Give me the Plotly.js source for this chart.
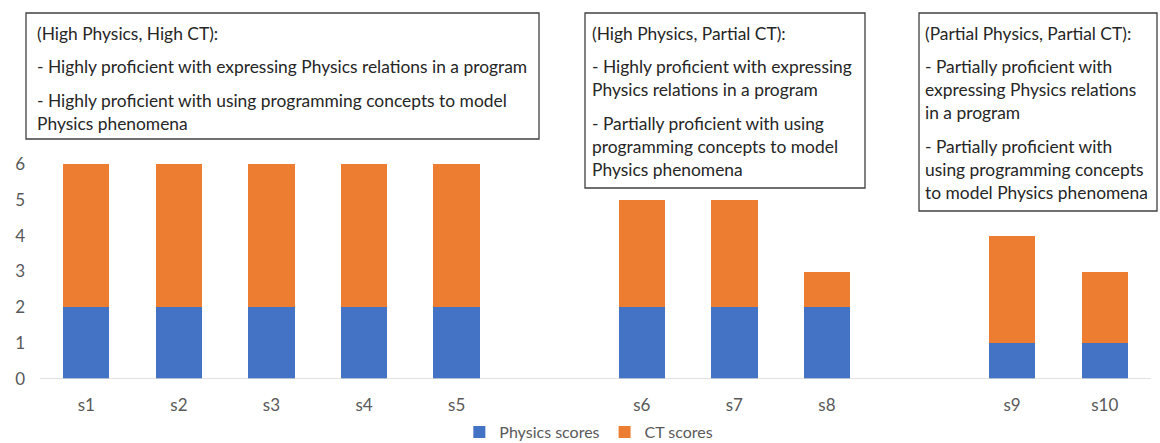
<!DOCTYPE html>
<html>
<head>
<meta charset="utf-8">
<script src="https://cdn.plot.ly/plotly-3.0.1.min.js"></script>
<style>html,body{margin:0;padding:0;background:#fff;}#chart{width:1160px;height:443px;}</style>
</head>
<body>
<div id="chart"></div>
<script>
// ---- data ----
const categories = ['s1','s2','s3','s4','s5','s6','s7','s8','s9','s10'];
const groupIndex = [0,0,0,0,0,1,1,1,2,2];
const physicsScores = [2,2,2,2,2,2,2,2,1,1];
const ctScores = [4,4,4,4,4,3,3,1,3,2];
const seriesNames = ['Physics scores','CT scores'];
const groupNotes = [
  ['(High Physics, High CT):',
   ['- Highly proficient with expressing Physics relations in a program'],
   ['- Highly proficient with using programming concepts to model', 'Physics phenomena']],
  ['(High Physics, Partial CT):',
   ['- Highly proficient with expressing', 'Physics relations in a program'],
   ['- Partially proficient with using', 'programming concepts to model', 'Physics phenomena']],
  ['(Partial Physics, Partial CT):',
   ['- Partially proficient with', 'expressing Physics relations', 'in a program'],
   ['- Partially proficient with', 'using programming concepts', 'to model Physics phenomena']]
];

// slot position: one empty slot between groups
const xpos = categories.map((c, i) => i + groupIndex[i]);

const W = 1160, H = 443;
const M = {l: 40, r: 9, t: 164, b: 64, autoexpand: false};
const pw = W - M.l - M.r, ph = H - M.t - M.b;
const px = v => (v - M.l) / pw;
const py = v => (H - M.b - v) / ph;

const FONT = 'Lato, "Open Sans", sans-serif';
const NOTE_SIZE = 17.4;

const traces = [
  {type: 'bar', name: seriesNames[0], x: xpos, y: physicsScores,
   marker: {color: '#4472C4', line: {width: 0}}, hoverinfo: 'y'},
  {type: 'bar', name: seriesNames[1], x: xpos, y: ctScores,
   marker: {color: '#ED7D31', line: {width: 0}}, hoverinfo: 'y'}
];

// note boxes (layout only)
const boxes = [
  {l: 26, r: 539, t: 13, b: 139, tx: 35, lines: [33, 67, 100, 123]},
  {l: 585, r: 865, t: 13, b: 188, tx: 590, lines: [33, 66, 89, 123, 146, 169]},
  {l: 919, r: 1157, t: 13, b: 211, tx: 923, lines: [33, 66, 89, 112, 146, 169, 192]}
];
const shapes = [];
const annotations = [];
groupNotes.forEach((note, gi) => {
  const b = boxes[gi];
  shapes.push({type: 'rect', xref: 'paper', yref: 'paper',
    x0: px(b.l), x1: px(b.r), y0: py(b.b), y1: py(b.t),
    line: {color: '#404040', width: 1.3}, fillcolor: '#ffffff', layer: 'above'});
  const flat = [note[0]].concat(note[1], note[2]);
  flat.forEach((txt, li) => {
    annotations.push({xref: 'paper', yref: 'paper', x: px(b.tx), y: py(b.lines[li]),
      xanchor: 'left', yanchor: 'middle', showarrow: false, text: txt,
      font: {family: FONT, size: NOTE_SIZE, color: '#262626'}});
  });
});
// continuous baseline
shapes.push({type: 'line', xref: 'paper', yref: 'y', x0: 0, x1: 1, y0: 0, y1: 0,
  line: {color: '#D9D9D9', width: 1.3}, layer: 'above'});

const layout = {
  width: W, height: H,
  margin: M,
  paper_bgcolor: '#ffffff', plot_bgcolor: '#ffffff',
  barmode: 'stack', bargap: 0.5,
  font: {family: FONT, size: 17, color: '#595959'},
  xaxis: {
    range: [-0.5, 11.5], tickmode: 'array', tickvals: xpos, ticktext: categories,
    showgrid: false, zeroline: false, showline: false, ticks: '',
    ticklabelstandoff: 14, tickfont: {family: FONT, size: 17, color: '#595959'},
    fixedrange: true, automargin: false
  },
  yaxis: {
    range: [0, 6], dtick: 1, showgrid: false, zeroline: false, showline: false,
    ticks: '', ticklabelstandoff: 14, tickfont: {family: FONT, size: 17, color: '#595959'},
    fixedrange: true, automargin: false
  },
  showlegend: true,
  legend: {orientation: 'h', x: 0.494, xanchor: 'center', y: py(432), yanchor: 'middle',
    font: {family: FONT, size: 16, color: '#595959'}, traceorder: 'normal',
    itemwidth: 30, bgcolor: 'rgba(0,0,0,0)'},
  shapes: shapes,
  annotations: annotations
};

Plotly.newPlot('chart', traces, layout, {displayModeBar: false, staticPlot: true});
</script>
</body>
</html>
